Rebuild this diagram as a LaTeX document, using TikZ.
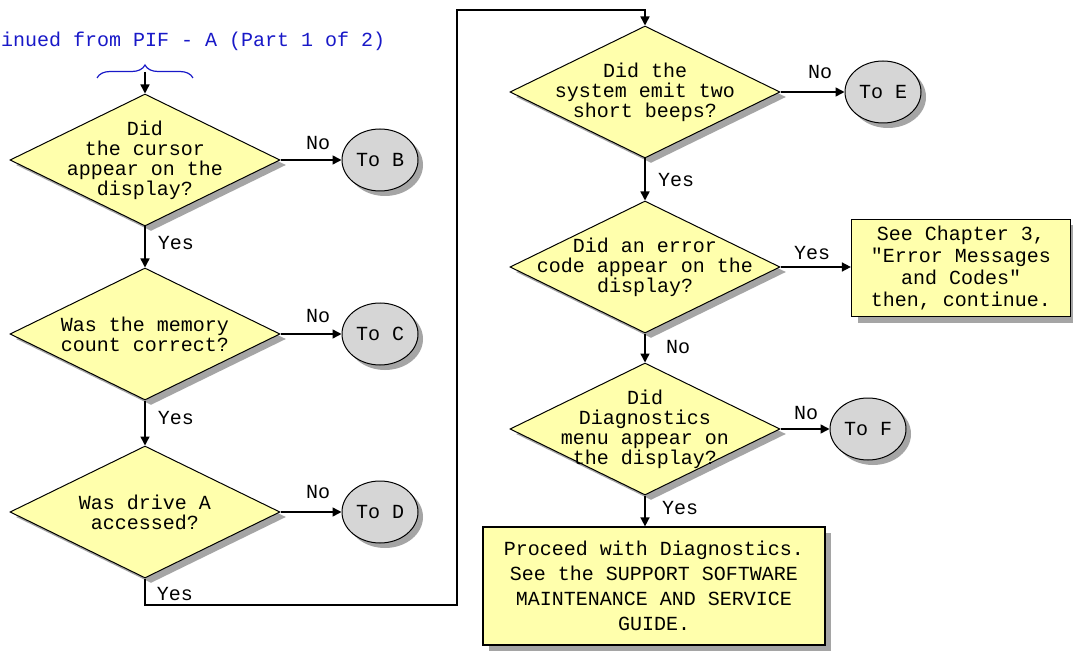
\documentclass[tikz,border=0pt]{standalone}
\usepackage{fontspec}
\newfontfamily\pixfont{Liberation Mono}
\usetikzlibrary{shapes.geometric,arrows.meta,shadows,decorations.pathreplacing}
\definecolor{pyellow}{RGB}{255,255,172}
\definecolor{pgray}{RGB}{214,214,214}
\definecolor{pshadow}{RGB}{165,165,165}
\definecolor{pblue}{RGB}{25,25,200}
\tikzset{
  base/.style={font=\pixfont\fontsize{20}{20}\selectfont},
  dia/.style={diamond,draw=black,line width=1pt,fill=pyellow,minimum width=270pt,minimum height=132pt,inner sep=0pt,
     drop shadow={shadow xshift=6pt,shadow yshift=-5pt,fill=pshadow,opacity=1}},
  dtxt/.style={base,align=center,inner sep=0pt},
  conn/.style={ellipse,draw=black,line width=1pt,fill=pgray,minimum width=76pt,minimum height=62pt,inner sep=0pt,base,
     drop shadow={shadow xshift=5pt,shadow yshift=-5pt,fill=pshadow,opacity=1}},
  actbox/.style={rectangle,draw=black,line width=1.2pt,fill=pyellow,inner sep=0pt,base,align=center,
     drop shadow={shadow xshift=6pt,shadow yshift=-6pt,fill=pshadow,opacity=1}},
  lbl/.style={base,inner sep=0pt},
  flow/.style={line width=1.5pt,-{Triangle[length=9pt,width=9pt]}},
  plain/.style={line width=1.5pt}
}
\begin{document}
\begin{tikzpicture}[x=1pt,y=-1pt]
\useasboundingbox[fill=white] (0,0) rectangle (1073,652);

% top continuation text and brace
\node[base,text=pblue,anchor=west,inner sep=0pt] (cont) at (1,41) {inued from PIF - A (Part 1 of 2)};
\draw[pblue,line width=1.2pt,decorate,decoration={brace,amplitude=13pt}] (97,78) -- (193,78);
\coordinate (start) at (145,72);

% left column
\node[dia] (d1) at (145,160) {};
\node[dtxt] (t1) at (d1.center) {Did\\the cursor\\appear on the\\display?};
\node[dia] (d2) at (145,334) {};
\node[dtxt] (t2) at (d2.center) {Was the memory\\count correct?};
\node[dia] (d3) at (145,512) {};
\node[dtxt] (t3) at (d3.center) {Was drive A\\accessed?};

\node[conn] (b) at (380,160) {To B};
\node[conn] (c) at (380,334) {To C};
\node[conn] (dd) at (380,512) {To D};

% right column
\node[dia] (d4) at (645,92) {};
\node[dtxt] (t4) at (d4.center) {Did the\\system emit two\\short beeps?};
\node[dia] (d5) at (645,267) {};
\node[dtxt] (t5) at (d5.center) {Did an error\\code appear on the\\display?};
\node[dia] (d6) at (645,429) {};
\node[dtxt] (t6) at (d6.center) {Did\\Diagnostics\\menu appear on\\the display?};

\node[conn] (e) at (883,92) {To E};
\node[conn] (f) at (868,429) {To F};

\node[actbox,minimum width=219pt,minimum height=97pt,font=\pixfont\fontsize{20}{22}\selectfont] (box1) at (961,268)
  {See Chapter 3,\\"Error Messages\\and Codes"\\then, continue.};
\node[actbox,minimum width=342pt,minimum height=118pt,font=\pixfont\fontsize{20}{25}\selectfont] (box2) at (654,586)
  {Proceed with Diagnostics.\\See the SUPPORT SOFTWARE\\MAINTENANCE AND SERVICE\\GUIDE.};

% connectors
\draw[flow] (start) -- (d1.north);
\draw[flow] (d1.east) -- (b.west);
\draw[flow] (d1.south) -- (d2.north);
\draw[flow] (d2.east) -- (c.west);
\draw[flow] (d2.south) -- (d3.north);
\draw[flow] (d3.east) -- (dd.west);
\coordinate (c1) at (457,605);
\coordinate (c2) at (457,10);
\draw[flow] (d3.south) |- (c1) -- (c2) -| (d4.north);
\draw[flow] (d4.east) -- (e.west);
\draw[flow] (d4.south) -- (d5.north);
\draw[flow] (d5.east) -- (d5.east -| box1.west);
\draw[flow] (d5.south) -- (d6.north);
\draw[flow] (d6.east) -- (f.west);
\draw[flow] (d6.south) -- (d6.south |- box2.north);

% labels
\node[lbl] (l1) at (318,143) {No};
\node[lbl] (l2) at (176,243) {Yes};
\node[lbl] (l3) at (318,316) {No};
\node[lbl] (l4) at (176,418) {Yes};
\node[lbl] (l5) at (318,492) {No};
\node[lbl] (l6) at (175,594) {Yes};
\node[lbl] (l7) at (820,72) {No};
\node[lbl] (l8) at (676,180) {Yes};
\node[lbl] (l9) at (812,253) {Yes};
\node[lbl] (l10) at (678,347) {No};
\node[lbl] (l11) at (806,413) {No};
\node[lbl] (l12) at (680,508) {Yes};
\end{tikzpicture}
\end{document}
